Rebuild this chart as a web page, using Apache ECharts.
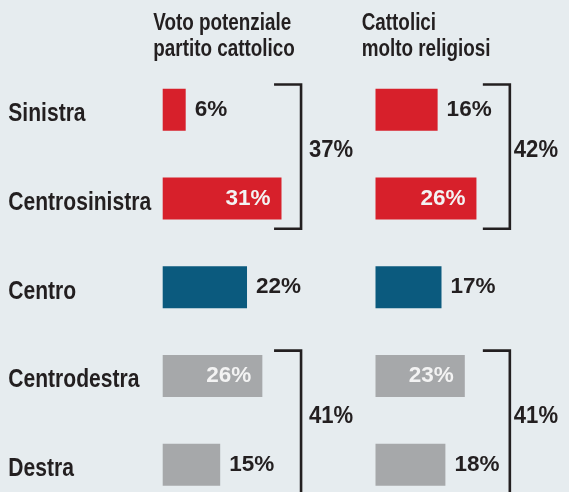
<!DOCTYPE html>
<html><head><meta charset="utf-8">
<script src="https://cdn.jsdelivr.net/npm/echarts@6/dist/echarts.min.js"></script>
<style>html,body{margin:0;padding:0;background:#e6ecef;overflow:hidden;}#c{width:569px;height:510px;}</style>
</head><body><div id="c"></div>
<script>
// ---- data ----
var categories = ['Sinistra', 'Centrosinistra', 'Centro', 'Centrodestra', 'Destra'];
var votoPotenziale = [6, 31, 22, 26, 15];
var cattoliciReligiosi = [16, 26, 17, 23, 18];
var panelTitles = ['Voto potenziale\npartito cattolico', 'Cattolici\nmolto religiosi'];
var groupRanges = [[0, 1], [3, 4]];
var votoTotals = [37, 41];
var cattoliciTotals = [42, 41];

// ---- style ----
var RED = '#d7202b', BLUE = '#0b5a7e', GRAY = '#a6a8aa', INK = '#231f20', BG = '#e6ecef';
var rowColors = [RED, RED, BLUE, GRAY, GRAY];
var insideRows = [1, 3];
var WIDE = "'Liberation Sans',Arial,sans-serif";
var NARROW_SCALE = 0.82;

function barData(vals) {
  return vals.map(function (v, i) {
    var inside = insideRows.indexOf(i) >= 0;
    return {
      value: v,
      itemStyle: { color: rowColors[i] },
      label: inside ? { position: 'insideRight', distance: 11, color: '#f3f3f3' }
                    : { position: 'right', distance: 9, color: INK }
    };
  });
}

function bracketRenderer(xVal, labelGap) {
  return function (params, api) {
    var s = api.value(0), e = api.value(1), t = api.value(2);
    var band = api.size([0, 1])[1];
    var p1 = api.coord([xVal, s]);
    var p2 = api.coord([xVal, e]);
    var x = p1[0];
    var top = p1[1] - band * 0.285;
    var bottom = p2[1] + band * 0.34;
    return {
      type: 'group',
      children: [
        { type: 'polyline', shape: { points: [[x - 27, top], [x, top], [x, bottom], [x - 27, bottom]] },
          style: { stroke: INK, lineWidth: 2.6, fill: null } },
        { type: 'text', x: x + labelGap, y: (top + bottom) / 2 - 6, scaleX: 0.92,
          style: { text: t + '%', x: 0, y: 0,
          align: 'left', verticalAlign: 'middle', fill: INK,
          fontSize: 24, fontWeight: 'bold', fontFamily: WIDE } }
      ]
    };
  };
}

function categoryLabelRenderer(params, api) {
  var p = api.coord([0, api.value(1)]);
  return {
    type: 'text', x: 8.3, y: p[1] + 4.3, scaleX: NARROW_SCALE,
    style: { text: categories[params.dataIndex], x: 0, y: 0, align: 'left', verticalAlign: 'middle',
      fill: INK, fontSize: 25.7, fontWeight: 'bold', fontFamily: WIDE }
  };
}

function groupData(totals) {
  return groupRanges.map(function (r, i) { return [r[0], r[1], totals[i]]; });
}

function titleText(txt, x) {
  return { type: 'text', x: x, y: 10.5, scaleX: NARROW_SCALE,
    style: { text: txt, x: 0, y: 0, align: 'left', verticalAlign: 'top',
      fontSize: 23, lineHeight: 26, fontWeight: 'bold', fontFamily: WIDE, fill: INK } };
}

var GRID_TOP = 65.5, GRID_H = 443.5;
var option = {
  backgroundColor: BG,
  animation: false,
  graphic: [ titleText(panelTitles[0], 153.3), titleText(panelTitles[1], 361.7) ],
  grid: [
    { left: 162.7, top: GRID_TOP, width: 153.3, height: GRID_H },
    { left: 375.5, top: GRID_TOP, width: 155.3, height: GRID_H }
  ],
  xAxis: [
    { gridIndex: 0, type: 'value', min: 0, max: 40, show: false },
    { gridIndex: 1, type: 'value', min: 0, max: 40, show: false }
  ],
  yAxis: [
    { gridIndex: 0, type: 'category', data: categories, inverse: true,
      axisLine: { show: false }, axisTick: { show: false }, splitLine: { show: false },
      axisLabel: { show: false } },
    { gridIndex: 1, type: 'category', data: categories, inverse: true, show: false }
  ],
  series: [
    { type: 'bar', xAxisIndex: 0, yAxisIndex: 0, barWidth: 42, data: barData(votoPotenziale),
      label: { show: true, formatter: '{c}%', fontSize: 22.5, fontWeight: 'bold', fontFamily: WIDE } },
    { type: 'bar', xAxisIndex: 1, yAxisIndex: 1, barWidth: 42, data: barData(cattoliciReligiosi),
      label: { show: true, formatter: '{c}%', fontSize: 22.5, fontWeight: 'bold', fontFamily: WIDE } },
    { type: 'custom', xAxisIndex: 0, yAxisIndex: 0, clip: false, silent: true,
      encode: { x: 0, y: 1 }, data: categories.map(function (c) { return [0, c]; }),
      renderItem: categoryLabelRenderer },
    { type: 'custom', xAxisIndex: 0, yAxisIndex: 0, clip: false, silent: true,
      encode: { x: 2, y: 0 }, data: groupData(votoTotals), renderItem: bracketRenderer(36.1, 8) },
    { type: 'custom', xAxisIndex: 1, yAxisIndex: 1, clip: false, silent: true,
      encode: { x: 2, y: 0 }, data: groupData(cattoliciTotals), renderItem: bracketRenderer(34.6, 4) }
  ]
};
var chart = echarts.init(document.getElementById('c'), null, { renderer: 'canvas' });
chart.setOption(option);
</script>
</body></html>
